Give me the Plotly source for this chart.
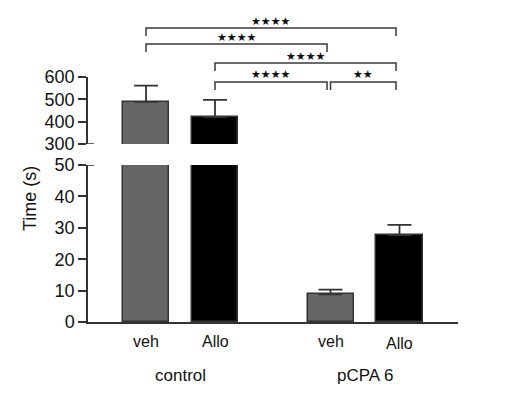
import plotly.graph_objects as go

# ---------------- data ----------------
groups = ["control", "pCPA 6"]
treatments = ["veh", "Allo"]
means = [489, 421, 8.8, 27.7]          # control-veh, control-Allo, pCPA6-veh, pCPA6-Allo
sems = [72, 77, 1.5, 3.2]
bar_colors = ["#666666", "#000000", "#666666", "#000000"]
comp_pairs = [(0, 3), (0, 2), (1, 3), (1, 2), (2, 3)]
comp_labels = ["★★★★", "★★★★", "★★★★", "★★★★", "★★"]
comp_levels = [0, 1, 2, 3, 3]
lower_ticks = [0, 10, 20, 30, 40, 50]
upper_ticks = [300, 400, 500, 600]

# ---------------- layout helpers ----------------
# the page body has an 8px default margin, so the figure is drawn 8px in from the corner
OFF = 8
W, H = 514 - OFF, 399 - OFF
GROUP_GAP = 2.674


def px_x(p):
    return (p - OFF) / W


def px_y(p):
    return 1 - (p - OFF) / H


positions = []
cat_text = []
for gi, g in enumerate(groups):
    for ti, t in enumerate(treatments):
        positions.append(gi * GROUP_GAP + ti)
        cat_text.append(t)

AX = "#333333"
FONT = "Liberation Sans, Arial, sans-serif"

fig = go.Figure()
for xa, ya in (("x", "y"), ("x2", "y2")):
    fig.add_trace(go.Bar(
        x=positions, y=means, width=0.667,
        marker=dict(color=bar_colors, line=dict(color=AX, width=1.5)),
        error_y=dict(type="data", array=sems, arrayminus=[0] * len(sems), symmetric=False,
                     color=AX, thickness=1.8, width=12),
        xaxis=xa, yaxis=ya, showlegend=False, hoverinfo="skip",
    ))

xdom = [px_x(88), px_x(458)]
xrange_ = [-0.841, 4.522]
yax_common = dict(showline=True, linecolor=AX, linewidth=1.5, ticks="outside", ticklen=8,
                  tickwidth=1.5, tickcolor=AX, showgrid=False, zeroline=False, automargin=False,
                  tickfont=dict(family=FONT, size=18, color="#111111"))

fig.update_layout(
    template="none",
    width=W, height=H, margin=dict(l=0, r=0, t=0, b=0, pad=0, autoexpand=False),
    paper_bgcolor="white", plot_bgcolor="white", bargap=0, showlegend=False,
    xaxis=dict(domain=xdom, range=xrange_, showline=True, linecolor=AX, linewidth=1.5,
               showticklabels=False, ticks="", showgrid=False, zeroline=False, anchor="y",
               automargin=False),
    xaxis2=dict(domain=xdom, range=xrange_, visible=False, anchor="y2", matches="x",
                automargin=False),
    yaxis=dict(domain=[px_y(322), px_y(165)], range=[0, 50], tickvals=lower_ticks,
               anchor="x", **yax_common),
    yaxis2=dict(domain=[px_y(144), px_y(77)], range=[300, 600], tickvals=upper_ticks,
                anchor="x2", **yax_common),
)

# axis-break marks (tick extends to the right of the axis)
fig.add_shape(type="line", xref="paper", yref="y", x0=px_x(88), x1=px_x(94), y0=50, y1=50,
              line=dict(color=AX, width=1.5))
fig.add_shape(type="line", xref="paper", yref="y2", x0=px_x(88), x1=px_x(94), y0=300, y1=300,
              line=dict(color=AX, width=1.5))

# category & group labels
for i, (p, t) in enumerate(zip(positions, cat_text)):
    fig.add_annotation(x=p, y=px_y(343 if i == 3 else 341), xref="x", yref="paper",
                       text=t, showarrow=False, yanchor="middle", xanchor="center",
                       font=dict(family=FONT, size=16, color="#111111"))
for gi, g in enumerate(groups):
    cx = (positions[2 * gi] + positions[2 * gi + 1]) / 2
    fig.add_annotation(x=cx, y=px_y(375), xref="x", yref="paper", text=g, showarrow=False,
                       yanchor="middle", xanchor="center",
                       font=dict(family=FONT, size=17, color="#111111"))

# y-axis title
fig.add_annotation(x=px_x(30), y=px_y(199), xref="paper", yref="paper", text="Time (s)",
                   textangle=-90, showarrow=False, xanchor="center", yanchor="middle",
                   font=dict(family=FONT, size=18, color="#111111"))

# significance brackets
level_px = [28, 44, 63, 82]
DROP = 8
for (i, j), lab, lv in zip(comp_pairs, comp_labels, comp_levels):
    x0 = positions[i]
    x1 = positions[j] - 0.05
    yt = level_px[lv]
    path = (f"M {x0} {px_y(yt + DROP)} L {x0} {px_y(yt)} L {x1} {px_y(yt)} L {x1} {px_y(yt + DROP)}")
    fig.add_shape(type="path", xref="x", yref="paper", path=path,
                  line=dict(color="#3a3a3a", width=1.5))
    fig.add_annotation(x=(x0 + x1) / 2, y=px_y(yt - 7), xref="x", yref="paper", text=lab,
                       showarrow=False, yanchor="middle", xanchor="center",
                       font=dict(family="DejaVu Sans", size=11, color="#111111"))

fig.write_html("out.html")
